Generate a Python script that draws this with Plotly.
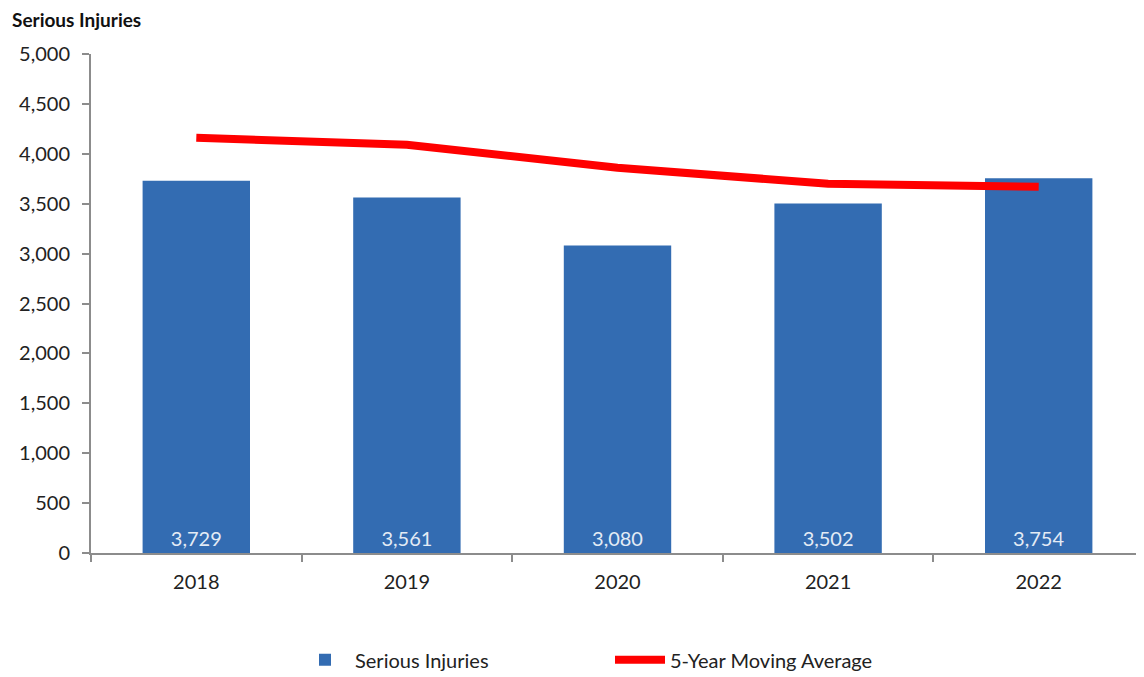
import plotly.graph_objects as go

years = ["2018", "2019", "2020", "2021", "2022"]
serious_injuries = [3729, 3561, 3080, 3502, 3754]
moving_avg = [4160, 4090, 3860, 3700, 3670]
bar_labels = [f"{v:,}" for v in serious_injuries]
y_ticks = [0, 500, 1000, 1500, 2000, 2500, 3000, 3500, 4000, 4500, 5000]

FONT = "Lato, 'Open Sans', sans-serif"

# page body has an 8px offset; compensate in margins
L, R, T, B = 83, 8, 46, 132
W, H = 1144, 677
PW = W - L - R
PH = H - T - B

fig = go.Figure()
fig.add_trace(go.Bar(
    x=years, y=serious_injuries, name="Serious Injuries",
    marker=dict(color="#336CB2", line=dict(width=0)),
    width=0.51,
    text=bar_labels, textposition="inside", insidetextanchor="start",
    textfont=dict(color="#E3EBF5", size=20, family=FONT),
))
fig.add_trace(go.Scatter(
    x=years, y=moving_avg, name="5-Year Moving Average",
    mode="lines", line=dict(color="#FF0000", width=8),
))

fig.update_layout(
    width=W, height=H,
    margin=dict(l=L, r=R, t=T, b=B, autoexpand=False),
    plot_bgcolor="white", paper_bgcolor="white",
    font=dict(family=FONT, size=20, color="#222"),
    showlegend=True,
    legend=dict(orientation="h", x=(295 - 8 - L) / PW, xanchor="left",
                y=-0.175, yanchor="top",
                font=dict(size=20, family=FONT), itemwidth=50,
                entrywidthmode="pixels", entrywidth=250),
    annotations=[dict(text="<b>Serious Injuries</b>", xref="paper", yref="paper",
                      x=(2 - L) / PW, y=1 + (T - 12) / PH, xanchor="left", yanchor="middle",
                      showarrow=False, font=dict(size=19, family=FONT, color="#111"))],
)
fig.update_yaxes(range=[0, 5000], tickvals=y_ticks, ticktext=[f"{v:,}" for v in y_ticks],
                 showgrid=False, showline=True, linecolor="#8c8c8c", linewidth=2,
                 ticks="outside", ticklen=7, tickcolor="#8c8c8c", tickwidth=2,
                 ticklabelstandoff=8, tickfont=dict(size=20), zeroline=False)
fig.update_xaxes(showgrid=False, showline=True, linecolor="#8c8c8c", linewidth=2,
                 ticks="outside", ticklen=7, tickcolor="#8c8c8c", tickwidth=2,
                 ticklabelstandoff=10, tickson="boundaries", tickfont=dict(size=20))

fig.write_html("out.html")
